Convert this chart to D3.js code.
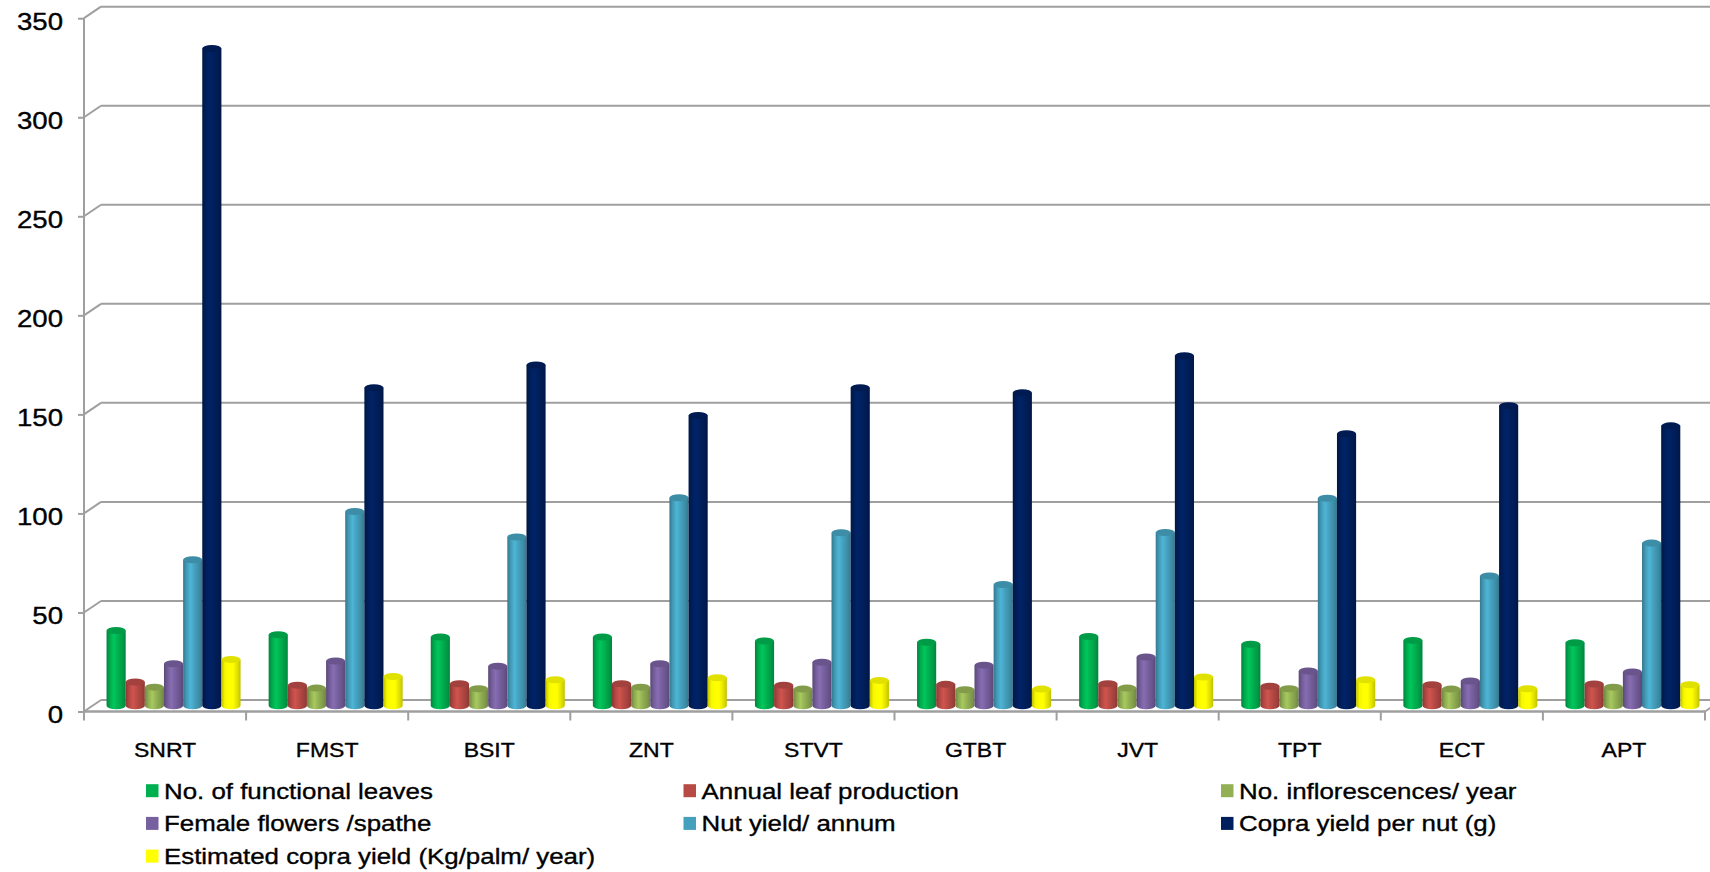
<!DOCTYPE html>
<html lang="en">
<head>
  <meta charset="UTF-8">
  <title>Coconut cultivars</title>
  <style>
    body { margin: 0; background: #fff; }
    text { font-family: "Liberation Sans", Arial, sans-serif; fill: #000; stroke: #000; stroke-width: 0.35px; }
  </style>
</head>
<body>
  <script src="https://cdn.jsdelivr.net/npm/d3@7/dist/d3.min.js"></script>
  <script>
    // values
    let categories = ["SNRT", "FMST", "BSIT", "ZNT", "STVT", "GTBT", "JVT", "TPT", "ECT", "APT"];
    let seriesNames = [
      "No. of functional leaves",
      "Annual leaf production",
      "No. inflorescences/ year",
      "Female flowers /spathe",
      "Nut yield/ annum",
      "Copra yield per nut (g)",
      "Estimated copra yield (Kg/palm/ year)"
    ];
    let seriesColors = ["#00b050", "#b84a45", "#93b154", "#77609e", "#45a0bd", "#001f5c", "#ffff00"];

    let functionalLeaves = [38, 35.8, 34.7, 34.7, 32.7, 32.1, 35, 31, 33, 31.8];
    let annualLeaves     = [12, 10.4, 11.1, 11.1, 10.4, 10.8, 11.1, 9.8, 10.6, 11];
    let inflorescences   = [9.4, 8.9, 8.6, 9.4, 8.4, 8.1, 8.9, 8.6, 8.4, 9.4];
    let femaleFlowers    = [21.2, 22.6, 20, 21.2, 22, 20.5, 24.6, 17.5, 12.5, 17];
    let nutYield         = [73.7, 98.1, 85.2, 105, 87.3, 61.2, 87.5, 104.8, 65.5, 82.1];
    let copraPerNut      = [331.8, 160.5, 172, 146.5, 160.5, 158, 176.7, 137.3, 151.4, 141.3];
    let copraPerPalm     = [23.4, 14.8, 13.1, 14.1, 12.8, 8.4, 14.5, 13.1, 8.6, 10.6];

    let yTicks = [0, 50, 100, 150, 200, 250, 300, 350];

    let seriesValues = [functionalLeaves, annualLeaves, inflorescences, femaleFlowers,
                        nutYield, copraPerNut, copraPerPalm];

    let width = 1710, height = 872;
    let depthX = 17, depthY = 11.5;   // 3d offset of the back wall
    let stretch = 1.15;               // text in the source is a bit wide
    let gridColor = "#9f9f9f";

    let svg = d3.select("body").append("svg")
      .attr("width", width)
      .attr("height", height);

    let x = d3.scaleBand().domain(categories).range([84, 1705]);
    let y = d3.scaleLinear().domain([0, 350]).range([711.5, 18.2]);
    let groupWidth = 134;
    let inner = d3.scaleBand().domain(seriesNames).range([0, groupWidth]);

    // back wall grid + diagonals to the front axis
    let grid = svg.append("g");
    grid.selectAll(".hline").data(yTicks).join("line")
      .attr("class", "hline")
      .attr("x1", 84 + depthX).attr("x2", width)
      .attr("y1", d => y(d) - depthY).attr("y2", d => y(d) - depthY)
      .attr("stroke", gridColor).attr("stroke-width", 2);
    grid.selectAll(".dline").data(yTicks).join("line")
      .attr("class", "dline")
      .attr("x1", 84).attr("x2", 84 + depthX)
      .attr("y1", d => y(d)).attr("y2", d => y(d) - depthY)
      .attr("stroke", gridColor).attr("stroke-width", 2);

    // floor front edge
    let y0 = y(0);
    svg.append("line")
      .attr("x1", 84).attr("x2", 1705).attr("y1", y0).attr("y2", y0)
      .attr("stroke", gridColor).attr("stroke-width", 2.5);
    svg.append("line")
      .attr("x1", 1705).attr("x2", 1705 + depthX).attr("y1", y0).attr("y2", y0 - depthY)
      .attr("stroke", gridColor).attr("stroke-width", 2);

    // category separators
    svg.selectAll(".sep").data(categories).join("line")
      .attr("class", "sep")
      .attr("x1", d => x(d) + x.bandwidth()).attr("x2", d => x(d) + x.bandwidth())
      .attr("y1", y0).attr("y2", y0 + 9)
      .attr("stroke", gridColor).attr("stroke-width", 2);

    // y axis
    let yAxis = svg.append("g")
      .attr("transform", "translate(84,0)")
      .call(d3.axisLeft(y).tickValues(yTicks).tickSize(6).tickSizeOuter(0));
    yAxis.select(".domain").attr("stroke", gridColor).attr("stroke-width", 2)
      .attr("d", "M0," + y(350) + "V" + (y0 + 9));
    yAxis.selectAll(".tick line").attr("stroke", gridColor).attr("stroke-width", 2);
    yAxis.selectAll(".tick text")
      .attr("x", -21 / stretch)
      .attr("dy", "0.46em")
      .attr("transform", "scale(" + stretch + ",1)")
      .style("font-size", "24px")
      .style("font-family", "'Liberation Sans', Arial, sans-serif")
      .attr("fill", "#000");

    // gradients for the cylinders
    let defs = svg.append("defs");
    seriesColors.forEach(function(c, i) {
      let base = d3.color(c);
      let g = defs.append("linearGradient").attr("id", "cyl" + i);
      let stops = [
        [0, base.darker(0.8)],
        [0.18, base.darker(0.1)],
        [0.38, base.brighter(0.35)],
        [0.6, base],
        [0.85, base.darker(0.4)],
        [1, base.darker(0.8)]
      ];
      stops.forEach(function(s) {
        g.append("stop").attr("offset", s[0]).attr("stop-color", s[1].formatHex());
      });
    });

    // cylinders
    let ry = 3.5;
    let bw = inner.bandwidth();
    let bars = svg.append("g");
    categories.forEach(function(cat, ci) {
      let left0 = x(cat) + (x.bandwidth() - groupWidth) / 2 + depthX / 2;
      seriesNames.forEach(function(s, si) {
        let v = seriesValues[si][ci];
        let left = left0 + inner(s);
        let right = left + bw;
        let yb = y(0) - depthY / 2;
        let yt = y(v) - depthY / 2;
        bars.append("path")
          .attr("d", "M" + left + "," + yt + "L" + left + "," + yb +
                     "A" + (bw / 2) + "," + ry + " 0 0 0 " + right + "," + yb +
                     "L" + right + "," + yt + "Z")
          .attr("fill", "url(#cyl" + si + ")");
        bars.append("ellipse")
          .attr("cx", left + bw / 2).attr("cy", yt)
          .attr("rx", bw / 2).attr("ry", ry)
          .attr("fill", d3.color(seriesColors[si]).darker(0.35).formatHex());
      });
    });

    // category labels
    svg.selectAll(".cat").data(categories).join("text")
      .attr("class", "cat")
      .attr("transform", d => "translate(" + (x(d) + x.bandwidth() / 2) + ",757) scale(" + stretch + ",1)")
      .attr("text-anchor", "middle")
      .style("font-size", "20px")
      .text(d => d);

    // legend
    let legend = svg.append("g");
    seriesNames.forEach(function(s, i) {
      let col = i % 3, row = Math.floor(i / 3);
      let mx = 146 + col * 537.5;
      let cy = 790.7 + row * 32.7;
      legend.append("rect")
        .attr("x", mx).attr("y", cy - 6.5)
        .attr("width", 12.5).attr("height", 13)
        .attr("fill", seriesColors[i]);
      legend.append("text")
        .attr("transform", "translate(" + (mx + 18) + "," + (cy + 8) + ") scale(" + stretch + ",1)")
        .style("font-size", "22.5px")
        .text(s);
    });
  </script>
</body>
</html>
